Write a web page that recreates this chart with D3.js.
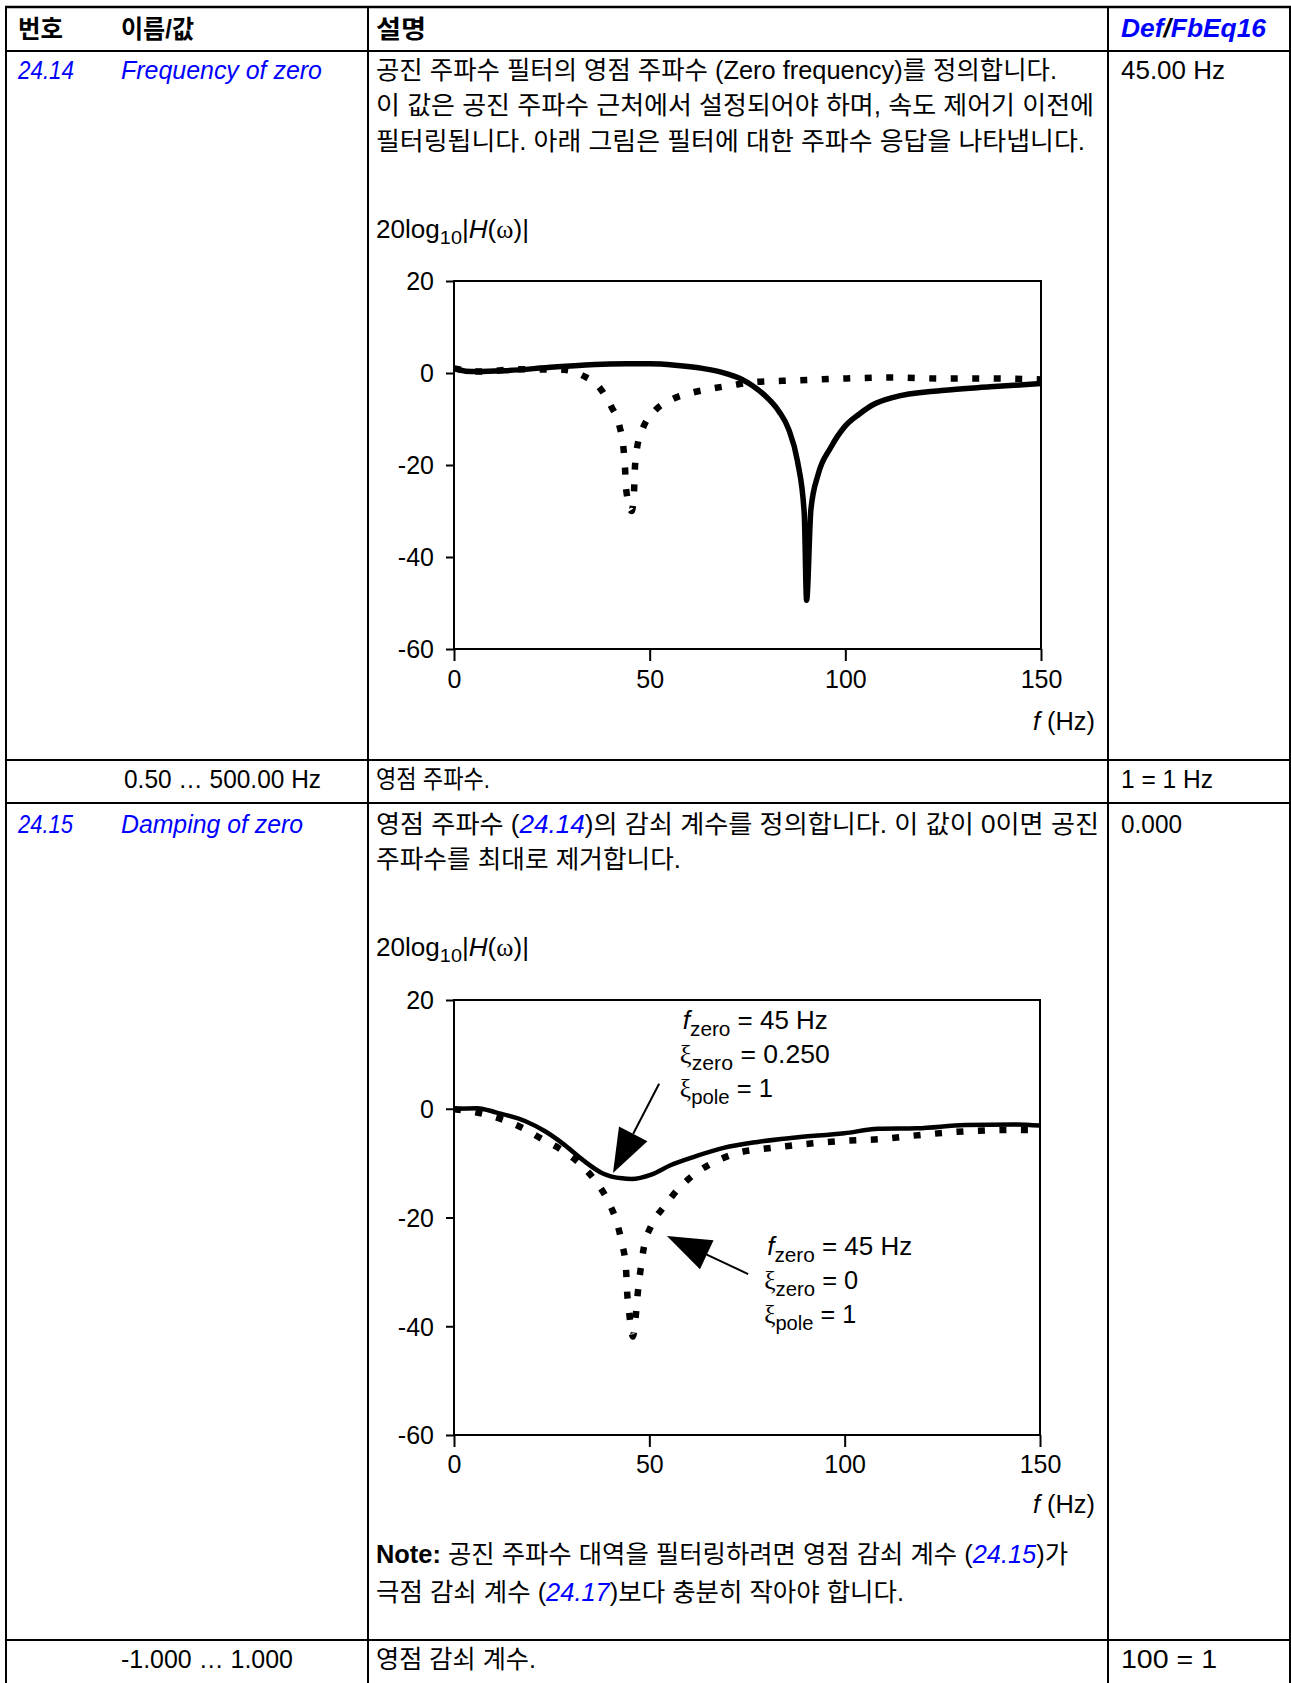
<!DOCTYPE html>
<html><head><meta charset="utf-8">
<script src="https://cdn.jsdelivr.net/npm/d3@7"></script>
<style>
body{margin:0;background:#fff}
svg text{font-family:"Liberation Sans",Arial,"Noto Sans CJK KR",sans-serif;font-size:25px;fill:#000}
</style></head><body><svg id="c" width="1291" height="1683"></svg>
<script>
// ---------------- DATA ----------------
const xTicks = [0, 50, 100, 150];
const yTicks = [20, 0, -20, -40, -60];
const xDomain = [0, 150];
const yDomain = [-60, 20];

// Figure 1 (24.14 Frequency of zero): [f (Hz), dB]
const fig1Solid = [[0,1],[3,0.4],[6,0.3],[13,0.5],[25.6,1.3],[38,1.9],[44,2],[50,2],[56.5,1.7],[63.5,1.0],[68.7,0.1],[73.6,-1.4],[76.2,-2.7],[79.6,-5],[83,-8.3],[85.5,-12.2],[87.8,-19.3],[89.5,-30.5],[90.1,-49.4],[91.2,-29.7],[93.1,-21.9],[96.2,-16.3],[99.9,-11.6],[103.6,-8.9],[107.3,-6.8],[112.3,-5.3],[124.6,-3.8],[137,-3],[150,-2.3]];
const fig1Dotted = [[0,1],[6,0.3],[17,0.8],[28,0.7],[33,-0.6],[37.4,-3.4],[40.2,-7.3],[42.3,-11.6],[43.3,-16.3],[43.7,-20.7],[44,-25.4],[45.4,-30],[46,-25.8],[46.2,-21.2],[46.7,-16.7],[48.1,-12.4],[51,-8.5],[55.3,-5.9],[60.3,-4.4],[65.2,-3.5],[70.8,-2.7],[76.4,-2],[87.5,-1.6],[99.9,-1.2],[112,-1],[124.6,-1.2],[137,-1.2],[150,-1.4]];

// Figure 2 (24.15 Damping of zero)
const fig2Solid = [[0,0],[5.9,0.1],[10.9,-0.7],[18.3,-2.3],[23.2,-4.1],[28.2,-6.6],[33.1,-9.5],[38.1,-11.9],[43,-12.8],[45.5,-12.9],[50.5,-12.1],[55.4,-10.4],[61.6,-8.8],[69,-7.2],[77.7,-6.1],[87.5,-5.3],[99.9,-4.5],[108.6,-3.7],[118.5,-3.6],[130.8,-3],[143.2,-2.9],[150,-3.1]];
const fig2Dotted = [[0,-0.1],[5.9,-0.7],[12.1,-1.9],[17.7,-3.6],[22.6,-5.6],[27.6,-7.6],[32.5,-10.3],[36.2,-13.3],[39.6,-17.2],[41.8,-21.2],[43,-24.8],[44,-29.1],[44.3,-33.5],[44.9,-37.9],[45.8,-41.9],[46.5,-38.3],[47,-34.2],[47.7,-29.9],[48.6,-25.5],[50.5,-21.5],[53.9,-17.9],[57.6,-14.6],[62.2,-11.7],[67.8,-9.4],[72.7,-8.1],[78.9,-7.4],[85,-6.9],[91.3,-6.4],[99.9,-5.9],[108.6,-5.6],[119.7,-4.8],[132,-4.1],[143.2,-3.9],[150,-3.9]];

// annotation labels of figure 2
const annotZeroDamp = ["45 Hz", "0.250", "1"];
const annotZeroDampAnchor = [57.8, 14.7];
const annotZeroDampArrow = [[52.5, 4.6], [40.7, -11.8]];
const annotNoDamp = ["45 Hz", "0", "1"];
const annotNoDampAnchor = [79.4, -26.9];
const annotNoDampArrow = [[75.3, -30.4], [54.5, -23.4]];

// ---------------- DRAW ----------------
const svg = d3.select('#c');
const BLUE = '#0000ff';

function rich(x, y, segs, w, anchor) {
  const t = svg.append('text').attr('x', x).attr('y', y);
  if (anchor) t.attr('text-anchor', anchor);
  if (w) t.attr('textLength', w).attr('lengthAdjust', 'spacingAndGlyphs');
  segs.forEach(s => {
    const o = typeof s === 'string' ? {t: s} : s;
    const sp = t.append('tspan').text(o.t);
    if (o.b) sp.attr('font-weight', 'bold');
    if (o.i) sp.attr('font-style', 'italic');
    if (o.c) sp.attr('fill', o.c);
    if (o.f) sp.attr('font-family', o.f);
    if (o.fs) sp.attr('font-size', o.fs);
    if (o.dy) sp.attr('dy', o.dy);
  });
  return t;
}

// table grid
const T = {l: 6, c1: 368, c2: 1108, r: 1290, top: 7, bottom: 1683};
const hLines = [7, 51, 760, 803, 1640];
hLines.forEach((y, i) => svg.append('line').attr('x1', T.l - 1).attr('x2', T.r + 1).attr('y1', y).attr('y2', y)
  .attr('stroke', '#000').attr('stroke-width', i === 0 ? 2.5 : 2));
[T.l, T.c1, T.c2, T.r].forEach(x => svg.append('line').attr('x1', x).attr('x2', x).attr('y1', T.top).attr('y2', T.bottom)
  .attr('stroke', '#000').attr('stroke-width', 2));

const cx = {n: 18, name: 121, d: 376, v: 1121};

// header
rich(cx.n, 38, [{t: '번호', b: 1}], 45);
rich(cx.name, 38, [{t: '이름/값', b: 1}], 73);
rich(cx.d, 38, [{t: '설명', b: 1}], 50);
rich(cx.v, 37, [{t: 'Def', b: 1, i: 1, c: BLUE}, {t: '/', b: 1, i: 1}, {t: 'FbEq16', b: 1, i: 1, c: BLUE}], 145);

// row 24.14
rich(cx.n, 79, [{t: '24.14', i: 1, c: BLUE}], 56);
rich(cx.name, 79, [{t: 'Frequency of zero', i: 1, c: BLUE}], 201);
rich(cx.d, 79, ['공진 주파수 필터의 영점 주파수 (Zero frequency)를 정의합니다.'], 681);
rich(cx.d, 114, ['이 값은 공진 주파수 근처에서 설정되어야 하며, 속도 제어기 이전에'], 718);
rich(cx.d, 150, ['필터링됩니다. 아래 그림은 필터에 대한 주파수 응답을 나타냅니다.'], 709);
rich(cx.v, 79, ['45.00 Hz'], 104);

// row range
rich(124, 788, ['0.50 … 500.00 Hz'], 197);
rich(cx.d, 788, ['영점 주파수.'], 114);
rich(cx.v, 788, ['1 = 1 Hz'], 92);

// row 24.15
rich(cx.n, 833, [{t: '24.15', i: 1, c: BLUE}], 55);
rich(cx.name, 833, [{t: 'Damping of zero', i: 1, c: BLUE}], 182);
rich(cx.d, 833, ['영점 주파수 (', {t: '24.14', i: 1, c: BLUE}, ')의 감쇠 계수를 정의합니다. 이 값이 0이면 공진'], 723);
rich(cx.d, 868, ['주파수를 최대로 제거합니다.'], 305);
rich(cx.v, 833, ['0.000'], 61);
rich(cx.d, 1563, [{t: 'Note:', b: 1}, ' 공진 주파수 대역을 필터링하려면 영점 감쇠 계수 (', {t: '24.15', i: 1, c: BLUE}, ')가'], 692);
rich(cx.d, 1601, ['극점 감쇠 계수 (', {t: '24.17', i: 1, c: BLUE}, ')보다 충분히 작아야 합니다.'], 528);

// last row
rich(121, 1668, ['-1.000 … 1.000'], 172);
rich(cx.d, 1668, ['영점 감쇠 계수.'], 160);
rich(cx.v, 1668, ['100 = 1'], 96);

// ---------------- charts ----------------
const SERIF = '"Liberation Serif","Times New Roman",serif';
function chart(cfg) {
  const x = d3.scaleLinear().domain(xDomain).range([cfg.x0, cfg.x1]);
  const y = d3.scaleLinear().domain(yDomain).range([cfg.yb, cfg.yt]);
  const g = svg.append('g');
  // y label
  rich(376, cfg.labelY, ['20log', {t: '10', fs: 19, dy: 6}, {t: '|', dy: -6}, {t: 'H', i: 1}, '(',
    {t: 'ω', f: SERIF}, ')|'], 153).attr('font-size', 26);
  // frame
  g.append('rect').attr('x', cfg.x0).attr('y', cfg.yt).attr('width', cfg.x1 - cfg.x0).attr('height', cfg.yb - cfg.yt)
    .attr('fill', 'none').attr('stroke', '#000').attr('stroke-width', 2);
  // y axis
  const ya = g.append('g').attr('transform', `translate(${cfg.x0},0)`)
    .call(d3.axisLeft(y).tickValues(yTicks).tickSize(8).tickPadding(12).tickFormat(d => String(d)));
  ya.select('.domain').remove();
  ya.selectAll('line').attr('stroke', '#000').attr('stroke-width', 2);
  ya.selectAll('text').attr('font-size', 26).attr('font-family', '"Liberation Sans",Arial,sans-serif').attr('dy', '0.35em').attr('fill', '#000');
  // x axis
  const xa = g.append('g').attr('transform', `translate(0,${cfg.yb})`)
    .call(d3.axisBottom(x).tickValues(xTicks).tickSize(12).tickPadding(cfg.xPad).tickFormat(d => String(d)));
  xa.select('.domain').remove();
  xa.selectAll('line').attr('stroke', '#000').attr('stroke-width', 2);
  xa.selectAll('text').attr('font-size', 26).attr('font-family', '"Liberation Sans",Arial,sans-serif').attr('fill', '#000');
  // f (Hz)
  rich(1095, cfg.fY, [{t: 'f', i: 1}, ' (Hz)'], 62, 'end');
  // curves
  const line = d3.line().x(d => x(d[0])).y(d => y(d[1])).curve(d3.curveMonotoneX);
  g.append('path').datum(cfg.dotted).attr('d', line).attr('fill', 'none').attr('stroke', '#000')
    .attr('stroke-width', 6.5).attr('stroke-dasharray', '7,14.5');
  g.append('path').datum(cfg.solid).attr('d', line).attr('fill', 'none').attr('stroke', '#000')
    .attr('stroke-width', cfg.sw).attr('stroke-linejoin', 'round');
  return {x, y};
}

chart({x0: 454, x1: 1041, yt: 281, yb: 649, labelY: 238, xPad: 9, fY: 730, solid: fig1Solid, dotted: fig1Dotted, sw: 5.5});
const c2 = chart({x0: 454, x1: 1040, yt: 1000, yb: 1435, labelY: 956, xPad: 8, fY: 1513, solid: fig2Solid, dotted: fig2Dotted, sw: 4.5});

// annotations
function annot(anchor, vals, arrow, widths) {
  const ax = c2.x(anchor[0]), ay = c2.y(anchor[1]);
  rich(ax + 3, ay, [{t: 'f', i: 1}, {t: 'zero', fs: 20, dy: 7}, {t: ' = ' + vals[0], dy: -7}], widths[0]);
  rich(ax, ay + 34, [{t: 'ξ', f: SERIF}, {t: 'zero', fs: 20, dy: 7}, {t: ' = ' + vals[1], dy: -7}], widths[1]);
  rich(ax, ay + 68, [{t: 'ξ', f: SERIF}, {t: 'pole', fs: 20, dy: 7}, {t: ' = ' + vals[2], dy: -7}], widths[2]);
  const x1 = c2.x(arrow[0][0]), y1 = c2.y(arrow[0][1]);
  const x2 = c2.x(arrow[1][0]), y2 = c2.y(arrow[1][1]);
  const ang = Math.atan2(y2 - y1, x2 - x1);
  const L = 44, W = 16;
  const bx = x2 - L * Math.cos(ang), by = y2 - L * Math.sin(ang);
  svg.append('line').attr('x1', x1).attr('y1', y1).attr('x2', bx).attr('y2', by).attr('stroke', '#000').attr('stroke-width', 2);
  const px = -Math.sin(ang), py = Math.cos(ang);
  svg.append('path').attr('d', `M${x2},${y2}L${bx + W * px},${by + W * py}L${bx - W * px},${by - W * py}Z`).attr('fill', '#000');
}
annot(annotZeroDampAnchor, annotZeroDamp, annotZeroDampArrow, [145, 150, 93]);
annot(annotNoDampAnchor, annotNoDamp, annotNoDampArrow, [145, 94, 92]);
</script></body></html>
